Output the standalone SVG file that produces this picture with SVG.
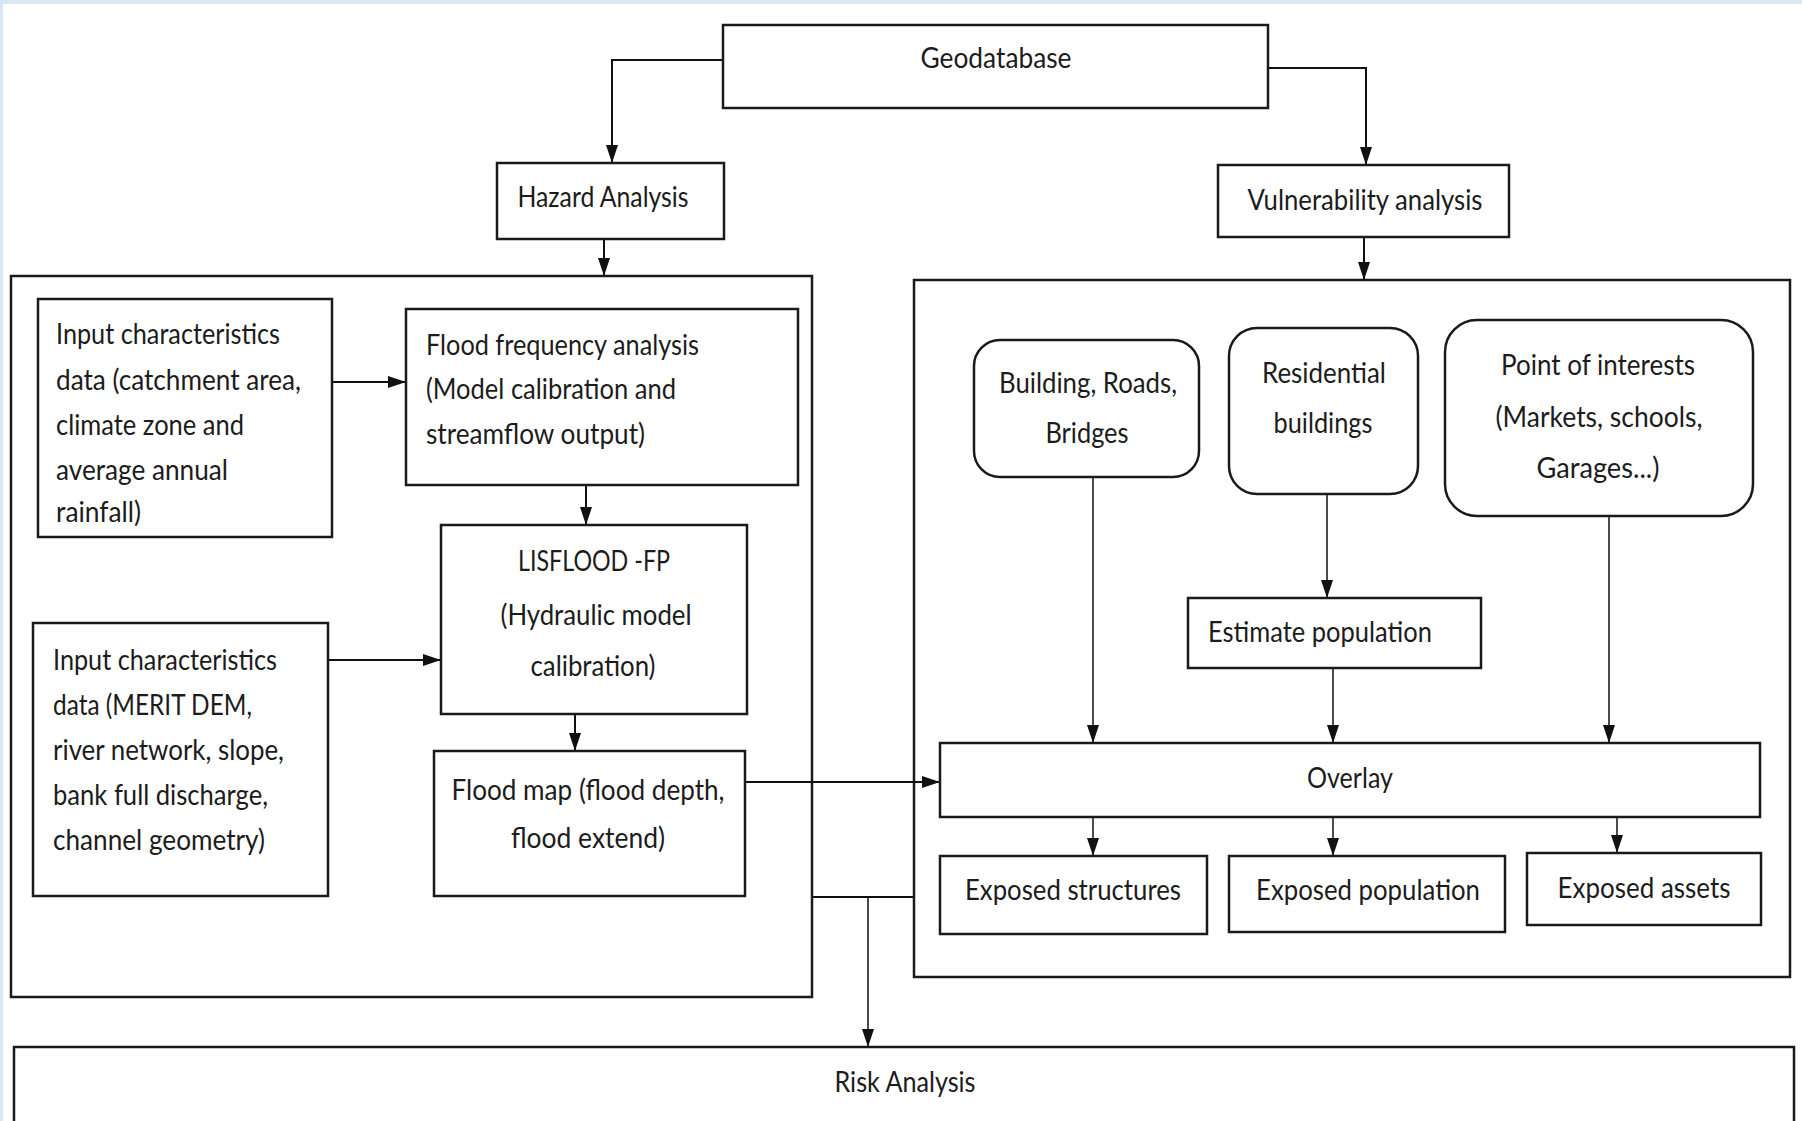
<svg xmlns="http://www.w3.org/2000/svg" width="1802" height="1121" viewBox="0 0 1802 1121">
<style>
.box{fill:#ffffff;stroke:#1a1a1a;stroke-width:2.5}
.cont{fill:none;stroke:#1a1a1a;stroke-width:2.5}
.t{font-family:Lato,"Liberation Sans",sans-serif;font-size:29px;fill:#1c1c1c}
.c{text-anchor:middle}
.con{fill:none;stroke:#111;stroke-width:2}
.thin{fill:none;stroke:#111;stroke-width:1.5}
</style>
<defs>
<marker id="arr" viewBox="0 0 18 12" refX="18" refY="6" markerWidth="18" markerHeight="12" markerUnits="userSpaceOnUse" orient="auto">
<path d="M0,0 L18,6 L0,12 Z" fill="#111"/>
</marker>
</defs>
<rect x="0" y="0" width="1802" height="1121" fill="#ffffff"/>
<rect x="0" y="0" width="1802" height="4" fill="#dae6f4"/>
<rect x="0" y="0" width="3" height="1121" fill="#dae6f4"/>

<g id="containers">
<rect id="hazard-container" class="cont" x="11" y="276" width="801" height="721"/>
<rect id="vulnerability-container" class="cont" x="914" y="280" width="876" height="697"/>
</g>

<g id="connectors">
<path class="con" d="M723,60 H612 V163" marker-end="url(#arr)"/>
<path class="con" d="M1268,68 H1366 V165" marker-end="url(#arr)"/>
<path class="con" d="M604,239 V276" marker-end="url(#arr)"/>
<path class="con" d="M1364,237 V280" marker-end="url(#arr)"/>
<path class="con" d="M332,382 H406" marker-end="url(#arr)"/>
<path class="con" d="M586,485 V525" marker-end="url(#arr)"/>
<path class="con" d="M328,660 H441" marker-end="url(#arr)"/>
<path class="con" d="M575,714 V751" marker-end="url(#arr)"/>
<path class="con" d="M745,782 H940" marker-end="url(#arr)"/>
<path class="thin" d="M1093,477 V743" marker-end="url(#arr)"/>
<path class="thin" d="M1327,494 V598" marker-end="url(#arr)"/>
<path class="thin" d="M1333,668 V743" marker-end="url(#arr)"/>
<path class="thin" d="M1609,516 V743" marker-end="url(#arr)"/>
<path class="thin" d="M1093,817 V856" marker-end="url(#arr)"/>
<path class="thin" d="M1333,817 V856" marker-end="url(#arr)"/>
<path class="thin" d="M1617,817 V853" marker-end="url(#arr)"/>
<path class="con" d="M812,897 H914"/>
<path class="thin" d="M868,897 V1047" marker-end="url(#arr)"/>
</g>

<g id="geodatabase">
<rect class="box" x="723" y="25" width="545" height="83"/>
<text class="t c" x="996" y="68" textLength="151" lengthAdjust="spacingAndGlyphs">Geodatabase</text>
</g>

<g id="hazard-analysis">
<rect class="box" x="497" y="163" width="227" height="76"/>
<text class="t c" x="603" y="207" textLength="171" lengthAdjust="spacingAndGlyphs">Hazard Analysis</text>
</g>

<g id="vulnerability-analysis">
<rect class="box" x="1218" y="165" width="291" height="72"/>
<text class="t c" x="1365" y="210" textLength="235" lengthAdjust="spacingAndGlyphs">Vulnerability analysis</text>
</g>

<g id="input-catchment">
<rect class="box" x="38" y="299" width="294" height="238"/>
<text class="t" x="56" y="344" textLength="224" lengthAdjust="spacingAndGlyphs">Input characteristics</text>
<text class="t" x="56" y="390" textLength="245" lengthAdjust="spacingAndGlyphs">data (catchment area,</text>
<text class="t" x="56" y="435" textLength="188" lengthAdjust="spacingAndGlyphs">climate zone and</text>
<text class="t" x="56" y="480" textLength="172" lengthAdjust="spacingAndGlyphs">average annual</text>
<text class="t" x="56" y="522" textLength="85" lengthAdjust="spacingAndGlyphs">rainfall)</text>
</g>

<g id="flood-frequency">
<rect class="box" x="406" y="309" width="392" height="176"/>
<text class="t" x="426" y="355" textLength="273" lengthAdjust="spacingAndGlyphs">Flood frequency analysis</text>
<text class="t" x="426" y="399" textLength="250" lengthAdjust="spacingAndGlyphs">(Model calibration and</text>
<text class="t" x="426" y="444" textLength="219" lengthAdjust="spacingAndGlyphs">streamflow output)</text>
</g>

<g id="lisflood">
<rect class="box" x="441" y="525" width="306" height="189"/>
<text class="t c" x="594" y="571" textLength="152" lengthAdjust="spacingAndGlyphs">LISFLOOD -FP</text>
<text class="t c" x="596" y="625" textLength="191" lengthAdjust="spacingAndGlyphs">(Hydraulic model</text>
<text class="t c" x="593" y="676" textLength="125" lengthAdjust="spacingAndGlyphs">calibration)</text>
</g>

<g id="input-dem">
<rect class="box" x="33" y="623" width="295" height="273"/>
<text class="t" x="53" y="670" textLength="224" lengthAdjust="spacingAndGlyphs">Input characteristics</text>
<text class="t" x="53" y="715" textLength="199" lengthAdjust="spacingAndGlyphs">data (MERIT DEM,</text>
<text class="t" x="53" y="760" textLength="231" lengthAdjust="spacingAndGlyphs">river network, slope,</text>
<text class="t" x="53" y="805" textLength="215" lengthAdjust="spacingAndGlyphs">bank full discharge,</text>
<text class="t" x="53" y="850" textLength="212" lengthAdjust="spacingAndGlyphs">channel geometry)</text>
</g>

<g id="flood-map">
<rect class="box" x="434" y="751" width="311" height="145"/>
<text class="t c" x="588" y="800" textLength="273" lengthAdjust="spacingAndGlyphs">Flood map (flood depth,</text>
<text class="t c" x="588" y="848" textLength="154" lengthAdjust="spacingAndGlyphs">flood extend)</text>
</g>

<g id="building-roads-bridges">
<rect class="box" x="974" y="340" width="225" height="137" rx="26" ry="26"/>
<text class="t c" x="1088" y="393" textLength="178" lengthAdjust="spacingAndGlyphs">Building, Roads,</text>
<text class="t c" x="1087" y="443" textLength="83" lengthAdjust="spacingAndGlyphs">Bridges</text>
</g>

<g id="residential-buildings">
<rect class="box" x="1229" y="328" width="189" height="166" rx="28" ry="28"/>
<text class="t c" x="1324" y="383" textLength="124" lengthAdjust="spacingAndGlyphs">Residential</text>
<text class="t c" x="1323" y="433" textLength="99" lengthAdjust="spacingAndGlyphs">buildings</text>
</g>

<g id="point-of-interests">
<rect class="box" x="1445" y="320" width="308" height="196" rx="32" ry="32"/>
<text class="t c" x="1598" y="375" textLength="194" lengthAdjust="spacingAndGlyphs">Point of interests</text>
<text class="t c" x="1599" y="427" textLength="207" lengthAdjust="spacingAndGlyphs">(Markets, schools,</text>
<text class="t c" x="1598" y="478" textLength="123" lengthAdjust="spacingAndGlyphs">Garages...)</text>
</g>

<g id="estimate-population">
<rect class="box" x="1188" y="598" width="293" height="70"/>
<text class="t" x="1208" y="642" textLength="224" lengthAdjust="spacingAndGlyphs">Estimate population</text>
</g>

<g id="overlay">
<rect class="box" x="940" y="743" width="820" height="74"/>
<text class="t c" x="1350" y="788" textLength="86" lengthAdjust="spacingAndGlyphs">Overlay</text>
</g>

<g id="exposed-structures">
<rect class="box" x="940" y="856" width="267" height="78"/>
<text class="t c" x="1073" y="900" textLength="216" lengthAdjust="spacingAndGlyphs">Exposed structures</text>
</g>

<g id="exposed-population">
<rect class="box" x="1229" y="856" width="276" height="76"/>
<text class="t c" x="1368" y="900" textLength="224" lengthAdjust="spacingAndGlyphs">Exposed population</text>
</g>

<g id="exposed-assets">
<rect class="box" x="1527" y="853" width="234" height="72"/>
<text class="t c" x="1644" y="898" textLength="173" lengthAdjust="spacingAndGlyphs">Exposed assets</text>
</g>

<g id="risk-analysis">
<rect class="box" x="14" y="1047" width="1780" height="90"/>
<text class="t c" x="905" y="1092" textLength="141" lengthAdjust="spacingAndGlyphs">Risk Analysis</text>
</g>
</svg>
